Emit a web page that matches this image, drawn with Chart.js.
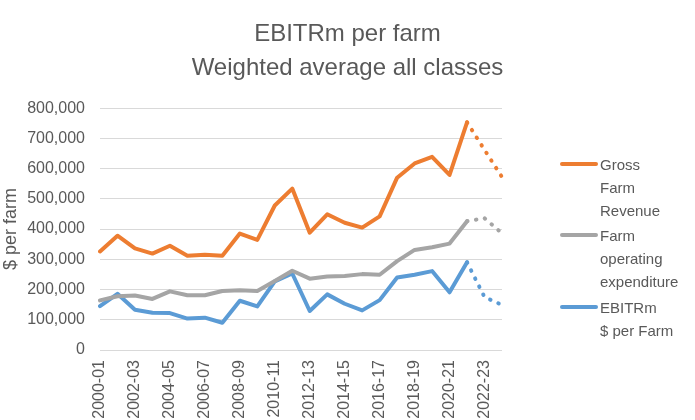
<!DOCTYPE html>
<html>
<head>
<meta charset="utf-8">
<script src="https://cdn.jsdelivr.net/npm/chart.js@4/dist/chart.umd.min.js"></script>
<style>
  body { margin: 0; background: #fff; }
  .wrap { position: relative; width: 695px; height: 420px; }
  .legend { position: absolute; left: 560px; top: 0; font-family: "Liberation Sans", sans-serif; font-size: 15px; color: #595959; }
  .item { position: absolute; left: 0; width: 140px; }
  .item span.ln { position: absolute; left: 0; width: 38px; height: 4px; border-radius: 2px; }
  .item div.tx { position: absolute; left: 40px; line-height: 23px; white-space: nowrap; }
</style>
</head>
<body>
<div class="wrap">
  <canvas id="farm__chart" width="695" height="420"></canvas>
  <div class="legend" id="legend"></div>
</div>
<script>
var years = ["2000-01","2001-02","2002-03","2003-04","2004-05","2005-06","2006-07","2007-08",
  "2008-09","2009-10","2010-11","2011-12","2012-13","2013-14","2014-15","2015-16",
  "2016-17","2017-18","2018-19","2019-20","2020-21","2021-22","2022-23","2023-24"];

var grossRevenue = [326000, 378000, 336000, 319000, 345000, 312000, 315000, 312000,
  385000, 364000, 478000, 534000, 388000, 449000, 421000, 405000,
  442000, 570000, 617000, 639000, 579000, 753000, 662000, 572000];

var operatingExp = [164000, 178000, 180000, 169000, 194000, 181000, 181000, 195000,
  198000, 195000, 228000, 262000, 236000, 243000, 245000, 251000,
  249000, 294000, 331000, 340000, 352000, 426000, 436000, 386000];

var ebitrm = [145000, 186000, 133000, 123000, 122000, 104000, 107000, 90000,
  163000, 144000, 227000, 253000, 129000, 184000, 153000, 131000,
  165000, 240000, 249000, 261000, 191000, 290000, 175000, 149000];

var yTicks = [0, 100000, 200000, 300000, 400000, 500000, 600000, 700000, 800000];
var lastActual = 21; // after 2021-22 the lines are projections (dotted)

var textGrey = "#595959";
var fontName = "'Liberation Sans', sans-serif";

function makeSet(label, values, colour) {
    return {
        label: label,
        data: values,
        borderColor: colour,
        backgroundColor: colour,
        borderWidth: 4,
        borderCapStyle: 'round',
        borderJoinStyle: 'round',
        pointRadius: 0,
        tension: 0,
        segment: {
            borderDash: function (c) { return c.p0DataIndex >= lastActual ? [0.5, 8.5] : undefined; }
        }
    };
}

var sets = [
    makeSet("Gross Farm Revenue", grossRevenue, "#ED7D31"),
    makeSet("Farm operating expenditure", operatingExp, "#A5A5A5"),
    makeSet("EBITRm $ per Farm", ebitrm, "#5B9BD5")
];

var ctxFarm = document.getElementById("farm__chart");
new Chart(ctxFarm, {
    type: 'line',
    data: {
        labels: years,
        datasets: sets
    },
    options: {
        responsive: false,
        animation: false,
        layout: { padding: 0 },
        plugins: {
            legend: { display: false },
            tooltip: { enabled: false },
            title: {
                display: true,
                text: ["EBITRm per farm", "Weighted average all classes"],
                color: textGrey,
                font: { family: fontName, size: 24, weight: 'normal', lineHeight: 1.42 },
                padding: { top: 17, bottom: 23 }
            }
        },
        scales: {
            x: {
                offset: false,
                grid: { display: false, drawTicks: false },
                border: { display: false },
                ticks: {
                    autoSkip: false,
                    minRotation: 90,
                    maxRotation: 90,
                    padding: 10,
                    color: textGrey,
                    font: { family: fontName, size: 16 },
                    callback: function (v, i) { return i % 2 === 0 ? years[i] : ''; }
                },
                afterFit: function (scale) { scale.height = 70; }
            },
            y: {
                min: 0,
                max: 800000,
                afterBuildTicks: function (scale) {
                    scale.ticks = yTicks.map(function (v) { return { value: v }; });
                },
                grid: { color: "#D9D9D9", lineWidth: 1, drawTicks: false },
                border: { display: false },
                ticks: {
                    padding: 15,
                    color: textGrey,
                    font: { family: fontName, size: 16 },
                    callback: function (v) { return v.toLocaleString('en-US'); }
                },
                title: {
                    display: true,
                    text: "$ per farm",
                    color: textGrey,
                    font: { family: fontName, size: 18 },
                    padding: { top: 0, bottom: 0 }
                },
                afterFit: function (scale) { scale.width = 100; }
            },
            // empty axis that reserves room for the legend on the right
            legendSpace: {
                position: 'right',
                min: 0,
                max: 800000,
                grid: { display: false, drawTicks: false },
                border: { display: false },
                ticks: { display: false },
                afterFit: function (scale) { scale.width = 193; }
            }
        }
    }
});

// legend on the right, wrapped like the original
var legendRows = [
    { lines: ["Gross", "Farm", "Revenue"], colour: "#ED7D31", top: 153 },
    { lines: ["Farm", "operating", "expenditure"], colour: "#A5A5A5", top: 224 },
    { lines: ["EBITRm", "$ per Farm"], colour: "#5B9BD5", top: 296 }
];
var legendDiv = document.getElementById("legend");
legendRows.forEach(function (r) {
    var item = document.createElement('div');
    item.className = 'item';
    item.style.top = r.top + 'px';
    var ln = document.createElement('span');
    ln.className = 'ln';
    ln.style.background = r.colour;
    ln.style.top = '9px';
    var tx = document.createElement('div');
    tx.className = 'tx';
    tx.innerHTML = r.lines.join('<br>');
    item.appendChild(ln);
    item.appendChild(tx);
    legendDiv.appendChild(item);
});
</script>
</body>
</html>
